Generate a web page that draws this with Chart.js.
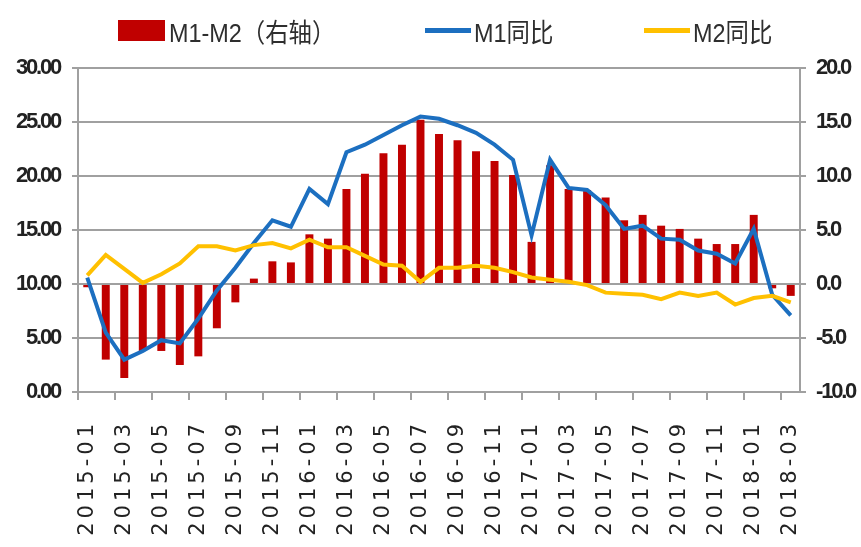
<!DOCTYPE html>
<html>
<head>
<meta charset="utf-8">
<script src="https://cdn.jsdelivr.net/npm/chart.js@4"></script>
<style>
  body { margin: 0; background: #fff; }
  #wrap { position: relative; width: 861px; height: 547px; }
  .lg { position: absolute; top: 13px; height: 34px; display: flex; align-items: center;
        font-family: "Liberation Sans", "Noto Sans CJK SC", sans-serif;
        font-size: 26px; color: #2e2e2e; white-space: nowrap; }
  .lg .box { width: 47px; height: 21px; margin-right: 4px; }
  .lg .ln { width: 46px; height: 5px; margin-right: 3px; }
  .lg .t { display: inline-block; transform: scaleX(0.9); transform-origin: left center; }
</style>
</head>
<body>
<div id="wrap">
  <canvas id="myChart" width="861" height="547"></canvas>
  <div class="lg" style="left:118px"><span class="box" style="background:#C00000"></span><span class="t">M1-M2（右轴）</span></div>
  <div class="lg" style="left:425px"><span class="ln" style="background:#1C6FC0"></span><span class="t">M1同比</span></div>
  <div class="lg" style="left:644px"><span class="ln" style="background:#FFC000"></span><span class="t">M2同比</span></div>
</div>
<script>
// 월 (카테고리)
const months = [
  "2015-01", "2015-02", "2015-03", "2015-04", "2015-05", "2015-06", "2015-07", "2015-08", "2015-09", "2015-10", "2015-11", "2015-12",
  "2016-01", "2016-02", "2016-03", "2016-04", "2016-05", "2016-06", "2016-07", "2016-08", "2016-09", "2016-10", "2016-11", "2016-12",
  "2017-01", "2017-02", "2017-03", "2017-04", "2017-05", "2017-06", "2017-07", "2017-08", "2017-09", "2017-10", "2017-11", "2017-12",
  "2018-01", "2018-02", "2018-03",
];

// M1 同比 (왼쪽 축)
const m1Yoy = [
  10.6, 5.5, 3.0, 3.8, 4.8, 4.5, 6.8, 9.4, 11.5, 13.8, 15.9, 15.3,
  18.8, 17.4, 22.2, 22.9, 23.8, 24.7, 25.5, 25.3, 24.7, 24.0, 22.9, 21.5,
  14.5, 21.5, 18.9, 18.7, 17.3, 15.1, 15.4, 14.2, 14.1, 13.1, 12.8, 11.9,
  15.1, 9.0, 7.1,
];

// M2 同比 (왼쪽 축)
const m2Yoy = [
  10.8, 12.7, 11.4, 10.1, 10.9, 11.9, 13.5, 13.5, 13.1, 13.6, 13.8, 13.3,
  14.1, 13.4, 13.4, 12.6, 11.8, 11.7, 10.2, 11.5, 11.5, 11.7, 11.5, 11.1,
  10.6, 10.4, 10.2, 9.9, 9.2, 9.1, 9.0, 8.6, 9.2, 8.9, 9.2, 8.1,
  8.7, 8.9, 8.3,
];

// M1-M2 (오른쪽 축)
const m1m2Gap = [
  -0.3, -7.0, -8.7, -6.2, -6.2, -7.5, -6.7, -4.1, -1.7, 0.5, 2.1, 2.0,
  4.6, 4.2, 8.8, 10.2, 12.1, 12.9, 15.2, 13.9, 13.3, 12.3, 11.4, 10.1,
  3.9, 11.0, 8.8, 8.7, 8.0, 5.9, 6.4, 5.4, 5.1, 4.2, 3.7, 3.7,
  6.4, -0.4, -1.1,
];

const gridGray = "#a0a0a0";
const tickFont = { family: "'Liberation Sans', sans-serif", size: 22, weight: "bold" };

// 축 라벨 글자 간격 (x는 넓게, y는 좁게)
const labelSpacing = { x: "4px", y: "-2.2px", y1: "-2.2px" };
const spacingPlugin = {
  id: "spacingPlugin",
  afterUpdate(chart) {
    Object.keys(labelSpacing).forEach(function (id) {
      const s = chart.scales[id];
      if (!s || s._spaced) return;
      const draw = s.drawLabels.bind(s);
      s.drawLabels = function (area) {
        chart.ctx.save();
        chart.ctx.letterSpacing = labelSpacing[id];
        draw(area);
        chart.ctx.restore();
      };
      s._spaced = true;
    });
  },
};

const ctx = document.getElementById("myChart").getContext("2d");
const myChart = new Chart(ctx, {
  data: {
    labels: months,
    datasets: [
      {
        type: "line",
        label: "M2同比",
        data: m2Yoy,
        yAxisID: "y",
        borderColor: "#FFC000",
        borderWidth: 4,
        pointRadius: 0,
        tension: 0,
        order: 1,
      },
      {
        type: "line",
        label: "M1同比",
        data: m1Yoy,
        yAxisID: "y",
        borderColor: "#1C6FC0",
        borderWidth: 4,
        pointRadius: 0,
        tension: 0,
        order: 2,
      },
      {
        type: "bar",
        label: "M1-M2（右轴）",
        data: m1m2Gap,
        yAxisID: "y1",
        backgroundColor: "#C00000",
        barPercentage: 0.43,
        categoryPercentage: 1,
        order: 3,
      },
    ],
  },
  plugins: [spacingPlugin],
  options: {
    responsive: false,
    animation: false,
    layout: { padding: { top: 68, right: 0, bottom: 0, left: 0 } },
    plugins: {
      legend: { display: false },
      tooltip: { enabled: false },
    },
    scales: {
      x: {
        type: "category",
        offset: true,
        grid: {
          offset: true,
          drawOnChartArea: false,
          tickLength: 8,
          lineWidth: 2,
          color: (c) => (c.index % 2 === 0 ? gridGray : "rgba(0,0,0,0)"),
        },
        border: { display: true, color: gridGray, width: 2 },
        ticks: {
          autoSkip: false,
          minRotation: 90,
          maxRotation: 90,
          padding: 20,
          color: "#222",
          font: { family: "'DejaVu Sans', sans-serif", size: 21 },
          callback: function (value, index) {
            return index % 2 === 0 ? months[index] : "";
          },
        },
        afterFit: (scale) => { scale.height = 155; },
      },
      y: {
        position: "left",
        min: 0,
        max: 30,
        grid: { color: gridGray, lineWidth: 2, tickLength: 6 },
        border: { display: true, color: gridGray, width: 2 },
        ticks: {
          stepSize: 5,
          padding: 12,
          color: "#222",
          font: tickFont,
          callback: (v) => v.toFixed(2),
        },
        afterFit: (scale) => { scale.width = 78; },
      },
      y1: {
        position: "right",
        min: -10,
        max: 20,
        grid: { drawOnChartArea: false, color: gridGray, lineWidth: 2, tickLength: 6 },
        border: { display: true, color: gridGray, width: 2 },
        ticks: {
          stepSize: 5,
          padding: 10,
          color: "#222",
          font: tickFont,
          callback: (v) => v.toFixed(1),
        },
        afterFit: (scale) => { scale.width = 61; },
      },
    },
  },
});
</script>
</body>
</html>
